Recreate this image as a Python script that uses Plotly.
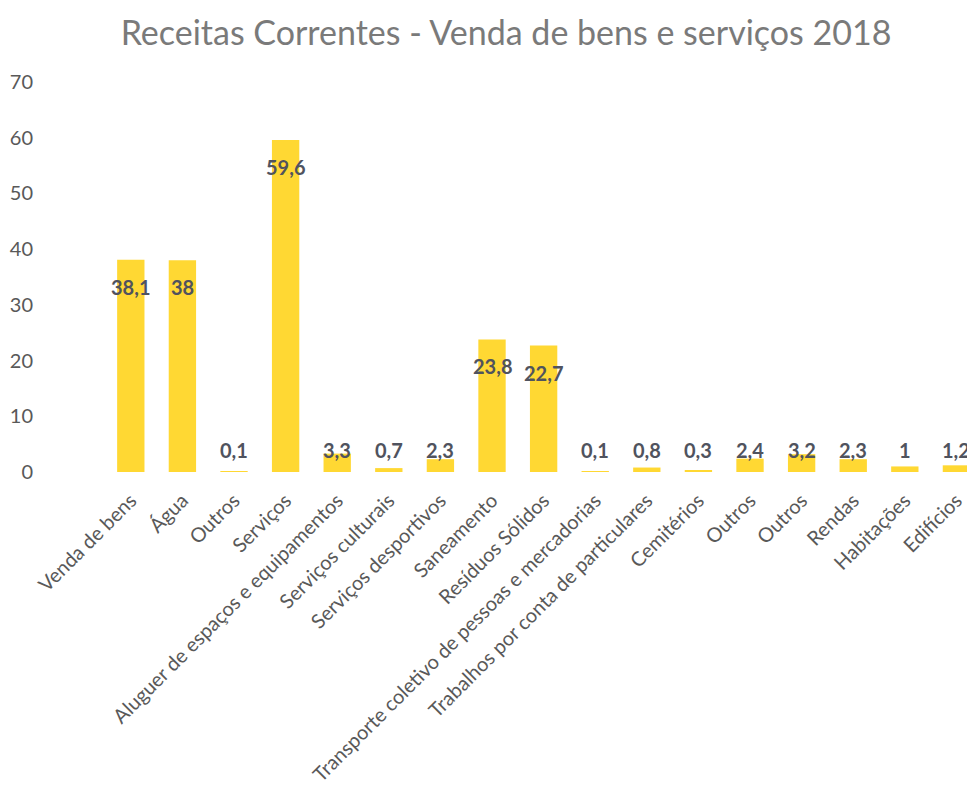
import plotly.graph_objects as go

categories = ["Venda de bens", "Água", "Outros", "Serviços",
              "Aluguer de espaços e equipamentos", "Serviços culturais",
              "Serviços desportivos", "Saneamento", "Resíduos Sólidos",
              "Transporte coletivo de pessoas e mercadorias",
              "Trabalhos por conta de particulares", "Cemitérios", "Outros",
              "Outros", "Rendas", "Habitações", "Edifícios"]
values = [38.1, 38, 0.1, 59.6, 3.3, 0.7, 2.3, 23.8, 22.7, 0.1, 0.8, 0.3, 2.4, 3.2, 2.3, 1, 1.2]
labels = [str(v).replace(".", ",") if v != int(v) else str(int(v)) for v in values]

title = "Receitas Correntes - Venda de bens e serviços 2018"
font_family = "Lato, Open Sans, sans-serif"

fig = go.Figure()
fig.add_trace(go.Bar(
    x=list(range(len(categories))), y=values,
    marker=dict(color="#FFD833", line=dict(width=0)),
    hoverinfo="y",
))

# page body has an 8px margin, so the figure is sized to fit inside the window
W, H = 967, 794
mt, mb, ml, mr = 74, 330, 97, 0
plot_h = H - mt - mb
ymax = 70
px_per_unit = plot_h / ymax

for i, (v, lab) in enumerate(zip(values, labels)):
    top_px = v * px_per_unit
    if top_px - 27 > 22:
        y, ys = v, -27
    else:
        y, ys = 0, 22
    fig.add_annotation(x=i, y=y, yshift=ys, text=lab, showarrow=False,
                       xanchor="center", yanchor="middle",
                       font=dict(family=font_family, size=20, color="#50535e", weight="bold"))

fig.update_layout(
    width=W, height=H,
    margin=dict(t=mt, b=mb, l=ml, r=mr, autoexpand=False),
    paper_bgcolor="white", plot_bgcolor="white",
    bargap=0.47,
    showlegend=False,
    title=dict(text=title, x=498 / W, xanchor="center", y=1 - 25 / H, yanchor="middle",
               font=dict(family=font_family, size=34, color="#7a7a7a")),
    xaxis=dict(tickmode="array", tickvals=list(range(len(categories))),
               ticktext=categories, tickangle=-45, showgrid=False, zeroline=False,
               showline=False, ticks="", range=[-0.5, 16.36], automargin=False,
               ticklabelstandoff=12,
               tickfont=dict(family=font_family, size=20, color="#595959")),
    yaxis=dict(range=[0, ymax], dtick=10, showgrid=False, zeroline=False,
               showline=False, ticks="", ticklabelstandoff=71, automargin=False,
               tickfont=dict(family=font_family, size=20, color="#595959")),
)

fig.write_html("out.html")
